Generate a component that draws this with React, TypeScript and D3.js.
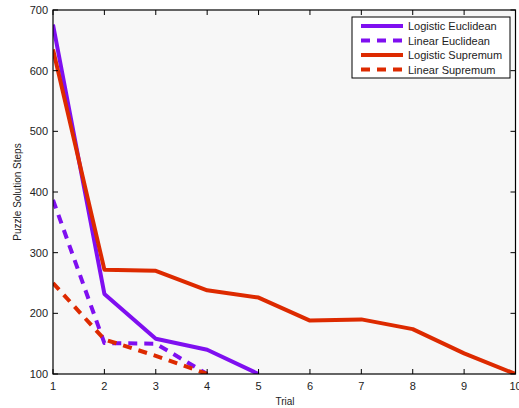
import React, { useEffect, useRef } from "react";
import * as d3 from "d3";

const trials = [1, 2, 3, 4, 5, 6, 7, 8, 9, 10];
const logisticEuclidean = [676, 232, 158, 140, 100];
const linearEuclidean = [387, 151, 150, 100];
const logisticSupremum = [635, 272, 270, 238, 226, 188, 190, 174, 134, 100];
const linearSupremum = [250, 157, 130, 100];
const yTicks = [100, 200, 300, 400, 500, 600, 700];

const seriesNames = ["Logistic Euclidean", "Linear Euclidean", "Logistic Supremum", "Linear Supremum"];
const purple = "#7f0ff0";
const red = "#dd2a00";

export default function App() {
  const svgRef = useRef<SVGSVGElement>(null);

  useEffect(() => {
    const svg = d3.select(svgRef.current);
    svg.selectAll("*").remove();

    const margin = { left: 53, top: 10, right: 3, bottom: 34 };
    const width = 519, height = 408;
    const x = d3.scaleLinear().domain([1, 10]).range([margin.left, width - margin.right - 0.5]);
    const y = d3.scaleLinear().domain([100, 700]).range([height - margin.bottom, margin.top]);
    const font = "Liberation Sans, Arial, sans-serif";

    svg.append("rect")
      .attr("x", x(1)).attr("y", y(700))
      .attr("width", x(10) - x(1)).attr("height", y(100) - y(700))
      .attr("fill", "#f7f7f7");

    const series = [
      { data: logisticEuclidean, color: purple, dash: null },
      { data: linearEuclidean, color: purple, dash: "9,7" },
      { data: logisticSupremum, color: red, dash: null },
      { data: linearSupremum, color: red, dash: "9,7" },
    ];

    const clip = svg.append("clipPath").attr("id", "plotclip").append("rect")
      .attr("x", x(1)).attr("y", y(700))
      .attr("width", x(10) - x(1)).attr("height", y(100) - y(700));

    const line = d3.line<number>().x((d, i) => x(trials[i])).y(d => y(d));
    const g = svg.append("g").attr("clip-path", "url(#plotclip)");
    series.forEach(s => {
      g.append("path")
        .attr("d", line(s.data))
        .attr("fill", "none")
        .attr("stroke", s.color)
        .attr("stroke-width", 4)
        .attr("stroke-dasharray", s.dash)
        .attr("stroke-linejoin", "round");
    });

    // frame
    svg.append("rect")
      .attr("x", x(1)).attr("y", y(700))
      .attr("width", x(10) - x(1)).attr("height", y(100) - y(700))
      .attr("fill", "none").attr("stroke", "#000").attr("stroke-width", 1.2);

    const tl = 5;
    trials.forEach(t => {
      svg.append("line").attr("x1", x(t)).attr("x2", x(t)).attr("y1", y(100)).attr("y2", y(100) - tl).attr("stroke", "#000");
      svg.append("line").attr("x1", x(t)).attr("x2", x(t)).attr("y1", y(700)).attr("y2", y(700) + tl).attr("stroke", "#000");
      svg.append("text").attr("x", x(t)).attr("y", y(100) + 16)
        .attr("text-anchor", "middle").attr("font-family", font).attr("font-size", 11).attr("fill", "#222")
        .text(t);
    });
    yTicks.forEach(v => {
      svg.append("line").attr("x1", x(1)).attr("x2", x(1) + tl).attr("y1", y(v)).attr("y2", y(v)).attr("stroke", "#000");
      svg.append("line").attr("x1", x(10)).attr("x2", x(10) - tl).attr("y1", y(v)).attr("y2", y(v)).attr("stroke", "#000");
      svg.append("text").attr("x", x(1) - 5).attr("y", y(v) + 4)
        .attr("text-anchor", "end").attr("font-family", font).attr("font-size", 11).attr("fill", "#222")
        .text(v);
    });

    svg.append("text").attr("x", 285).attr("y", 405)
      .attr("text-anchor", "middle").attr("font-family", font).attr("font-size", 10).attr("fill", "#222")
      .text("Trial");
    svg.append("text")
      .attr("transform", `translate(21,${(y(100) + y(700)) / 2}) rotate(-90)`)
      .attr("text-anchor", "middle").attr("font-family", font).attr("font-size", 10).attr("fill", "#222")
      .text("Puzzle Solution Steps");

    // legend
    const lg = svg.append("g").attr("transform", "translate(352,17)");
    lg.append("rect").attr("width", 158).attr("height", 61).attr("fill", "#fff").attr("stroke", "#000");
    series.forEach((s, i) => {
      const ly = 9 + i * 14.5;
      lg.append("line").attr("x1", 9).attr("x2", 51).attr("y1", ly).attr("y2", ly)
        .attr("stroke", s.color).attr("stroke-width", 4).attr("stroke-dasharray", s.dash);
      lg.append("text").attr("x", 56).attr("y", ly + 4)
        .attr("font-family", font).attr("font-size", 11).attr("fill", "#222")
        .text(seriesNames[i]);
    });
  }, []);

  return <svg ref={svgRef} width={519} height={408} style={{ position: "absolute", left: 0, top: 0 }} />;
}
